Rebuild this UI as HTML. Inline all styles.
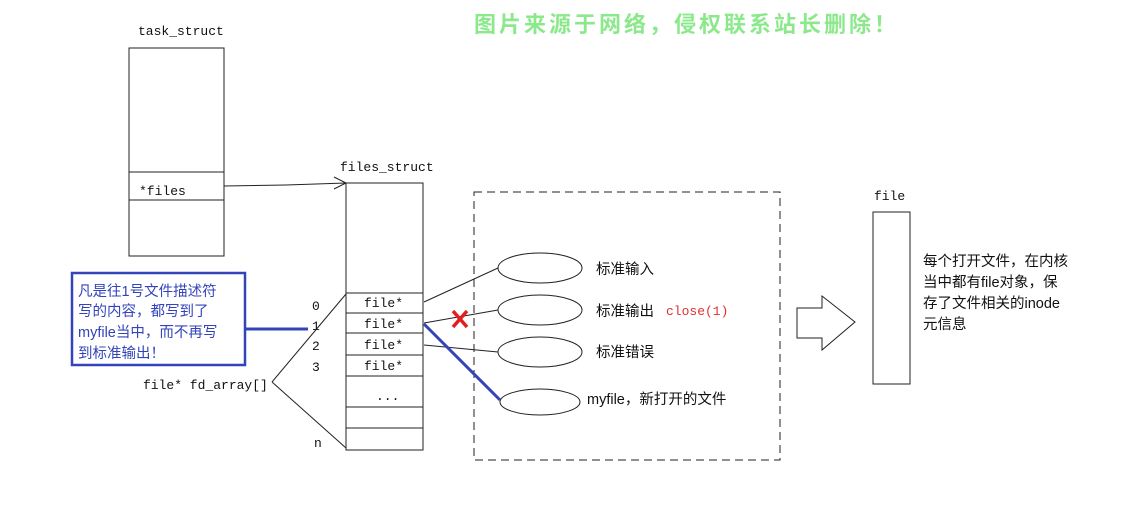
<!DOCTYPE html>
<html><head><meta charset="utf-8"><style>
body{margin:0;width:1140px;height:500px;background:#fff;overflow:hidden}
svg text{font-family:"Liberation Mono","Noto Sans CJK SC",monospace;font-size:13px;fill:#111}
.cj{font-family:"Liberation Sans","Noto Sans CJK SC",sans-serif;font-size:14.5px}
</style></head><body>
<svg width="1140" height="500" xmlns="http://www.w3.org/2000/svg">
<text x="474" y="32" style="font-family:'Liberation Sans','Noto Sans CJK SC',sans-serif;font-size:22px;font-weight:bold;fill:#8be88b;letter-spacing:3px">图片来源于网络，侵权联系站长删除！</text>
<text x="138" y="35">task_struct</text>
<g fill="none" stroke="#222" stroke-width="1">
<rect x="129" y="48" width="95" height="208"/>
<line x1="129" y1="172" x2="224" y2="172"/><line x1="129" y1="200" x2="224" y2="200"/>
<polyline points="224,186 286,185 346,183"/>
<polyline points="334,177 346,183 334,189"/>
<rect x="346" y="183" width="77" height="267"/>
<line x1="346" y1="293" x2="423" y2="293"/><line x1="346" y1="313" x2="423" y2="313"/>
<line x1="346" y1="333" x2="423" y2="333"/><line x1="346" y1="355" x2="423" y2="355"/>
<line x1="346" y1="376" x2="423" y2="376"/><line x1="346" y1="407" x2="423" y2="407"/>
<line x1="346" y1="428" x2="423" y2="428"/>
<line x1="272" y1="382" x2="346" y2="294"/><line x1="272" y1="382" x2="346" y2="448"/>
<rect x="474" y="192" width="306" height="268" stroke-dasharray="8,5"/>
<ellipse cx="540" cy="268" rx="42" ry="15"/>
<ellipse cx="540" cy="310" rx="42" ry="15"/>
<ellipse cx="540" cy="352" rx="42" ry="15"/>
<ellipse cx="540" cy="402" rx="40" ry="13"/>
<line x1="424" y1="302" x2="498" y2="268"/>
<line x1="424" y1="323" x2="498" y2="310"/>
<line x1="424" y1="345" x2="498" y2="352"/>
<rect x="873" y="212" width="37" height="172"/>
<polygon points="797,308 822,308 822,296 855,322 822,350 822,338 797,338"/>
</g>
<g stroke="#3344bb" stroke-width="3" fill="none">
<rect x="72" y="273" width="173" height="92" stroke-width="2.5"/>
<line x1="246" y1="329" x2="308" y2="329"/>
<line x1="424" y1="324" x2="500" y2="400"/>
</g>
<g stroke="#e02020" stroke-width="3.5"><line x1="453" y1="311" x2="467" y2="327"/><line x1="467" y1="311" x2="453" y2="327"/></g>
<text x="340" y="171">files_struct</text>
<text x="139" y="195">*files</text>
<text x="364" y="307">file*</text><text x="364" y="328">file*</text>
<text x="364" y="349">file*</text><text x="364" y="370">file*</text>
<text x="376" y="400">...</text>
<text x="312" y="310">0</text><text x="312" y="330">1</text><text x="312" y="350">2</text><text x="312" y="371">3</text>
<text x="314" y="447">n</text>
<text x="143" y="389">file* fd_array[]</text>
<text x="874" y="200">file</text>
<text class="cj" x="78" y="296" style="fill:#3344bb">凡是往1号文件描述符</text>
<text class="cj" x="78" y="316" style="fill:#3344bb">写的内容，都写到了</text>
<text class="cj" x="78" y="337" style="fill:#3344bb">myfile当中，而不再写</text>
<text class="cj" x="78" y="358" style="fill:#3344bb">到标准输出！</text>
<text class="cj" x="596" y="274">标准输入</text>
<text class="cj" x="596" y="316">标准输出</text>
<text x="666" y="315" style="fill:#e03030">close(1)</text>
<text class="cj" x="596" y="357">标准错误</text>
<text class="cj" x="587" y="404">myfile，新打开的文件</text>
<text class="cj" x="923" y="266">每个打开文件，在内核</text>
<text class="cj" x="923" y="287">当中都有file对象，保</text>
<text class="cj" x="923" y="308">存了文件相关的inode</text>
<text class="cj" x="923" y="329">元信息</text>
</svg>
</body></html>
